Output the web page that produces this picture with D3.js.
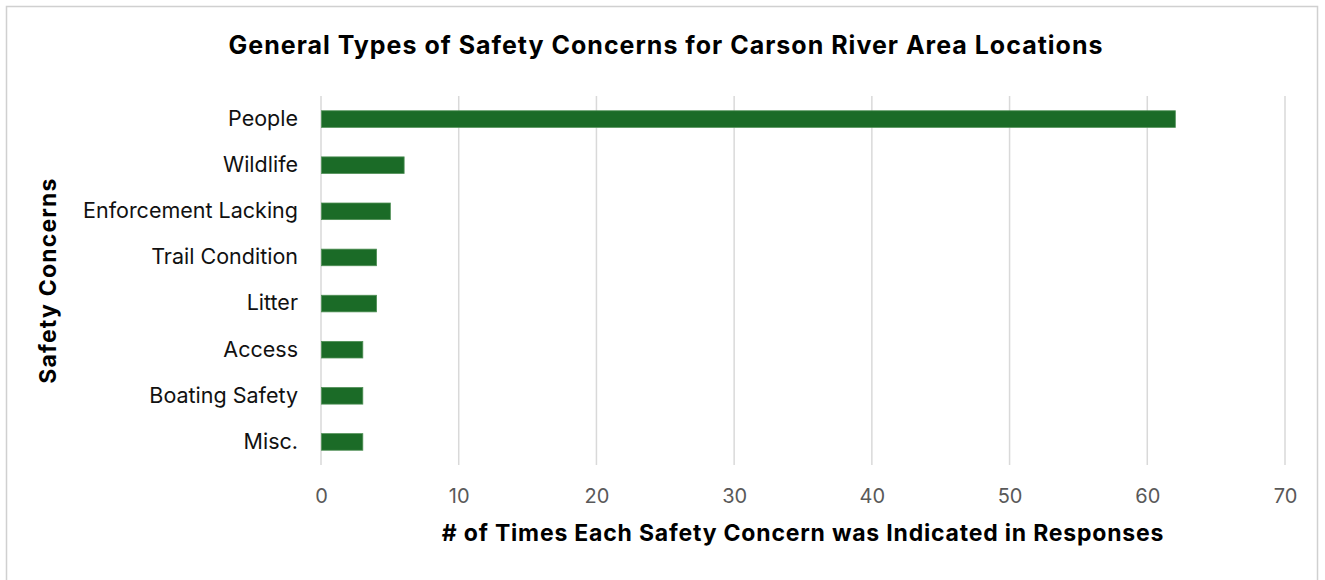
<!DOCTYPE html>
<html lang="en">
<head>
    <title>Safety Concerns</title>
    <script src="https://d3js.org/d3.v7.min.js"></script>
    <style>
        body { margin: 0; background: #fff; }
        svg { display: block; font-family: Inter, "Open Sans", sans-serif; }
    </style>
</head>
<body>
    <div id="chart"><svg></svg></div>

    <script>
        var width = 1325;
        var height = 580;
        var margins = { left: 321, right: 40, top: 96, bottom: 115 };

        var categories = ["People", "Wildlife", "Enforcement Lacking", "Trail Condition",
            "Litter", "Access", "Boating Safety", "Misc."];
        var counts = [62, 6, 5, 4, 4, 3, 3, 3];
        var xTicks = [0, 10, 20, 30, 40, 50, 60, 70];

        var rows = categories.map(function (c, i) { return { name: c, value: counts[i] }; });

        var innerW = width - margins.left - margins.right;
        var innerH = height - margins.top - margins.bottom;

        var svg = d3.select("svg")
            .attr("width", width)
            .attr("height", height);

        // chart frame
        svg.append("rect")
            .attr("x", 6.5).attr("y", 6.5)
            .attr("width", 1311).attr("height", 590)
            .attr("fill", "none")
            .attr("stroke", "#d0d0d0")
            .attr("stroke-width", 1.5);

        var xscale = d3.scaleLinear()
            .domain([0, 70])
            .range([0, innerW]);
        var yscale = d3.scaleBand()
            .domain(categories)
            .range([0, innerH])
            .paddingInner(0.64)
            .paddingOuter(0.32);

        var g = svg.append("g")
            .attr("transform", "translate(" + margins.left + "," + margins.top + ")");

        // gridlines
        g.selectAll(".grid")
            .data(xTicks)
            .enter()
            .append("line")
            .attr("x1", function (d) { return xscale(d); })
            .attr("x2", function (d) { return xscale(d); })
            .attr("y1", 0)
            .attr("y2", innerH)
            .attr("stroke", "#d9d9d9")
            .attr("stroke-width", 1.5);

        // x axis labels
        var xaxis = d3.axisBottom(xscale).tickValues(xTicks).tickSize(0).tickPadding(24);
        var xg = g.append("g")
            .attr("transform", "translate(0," + innerH + ")")
            .call(xaxis);
        xg.select(".domain").remove();
        xg.selectAll("text")
            .attr("fill", "#595959")
            .style("font-size", "20px")
            .style("font-family", "Inter, sans-serif");

        // y axis labels
        var yaxis = d3.axisLeft(yscale).tickSize(0).tickPadding(23);
        var yg = g.append("g").call(yaxis);
        yg.select(".domain").remove();
        yg.selectAll("text")
            .attr("fill", "#111")
            .style("font-size", "21.5px")
            .style("font-family", "Inter, sans-serif");

        // bars
        g.selectAll(".bar")
            .data(rows)
            .enter()
            .append("rect")
            .attr("x", xscale(0) + 0.5)
            .attr("y", function (d) { return yscale(d.name); })
            .attr("width", function (d) { return xscale(d.value) - xscale(0); })
            .attr("height", yscale.bandwidth())
            .attr("fill", "#1b6b27")
            .attr("stroke", "#4f8f55")
            .attr("stroke-width", 0.8);

        // titles
        svg.append("text")
            .attr("x", 666).attr("y", 54)
            .attr("text-anchor", "middle")
            .style("font-size", "25px")
            .style("letter-spacing", "1px")
            .style("font-weight", "bold")
            .text("General Types of Safety Concerns for Carson River Area Locations");

        svg.append("text")
            .attr("x", margins.left + innerW / 2).attr("y", 541)
            .attr("text-anchor", "middle")
            .style("font-size", "23px")
            .style("letter-spacing", "0.8px")
            .style("font-weight", "bold")
            .text("# of Times Each Safety Concern was Indicated in Responses");

        svg.append("text")
            .attr("transform", "translate(56," + (margins.top + innerH / 2) + ") rotate(-90)")
            .attr("text-anchor", "middle")
            .style("font-size", "23px")
            .style("letter-spacing", "1.2px")
            .style("font-weight", "bold")
            .text("Safety Concerns");
    </script>
</body>
</html>
